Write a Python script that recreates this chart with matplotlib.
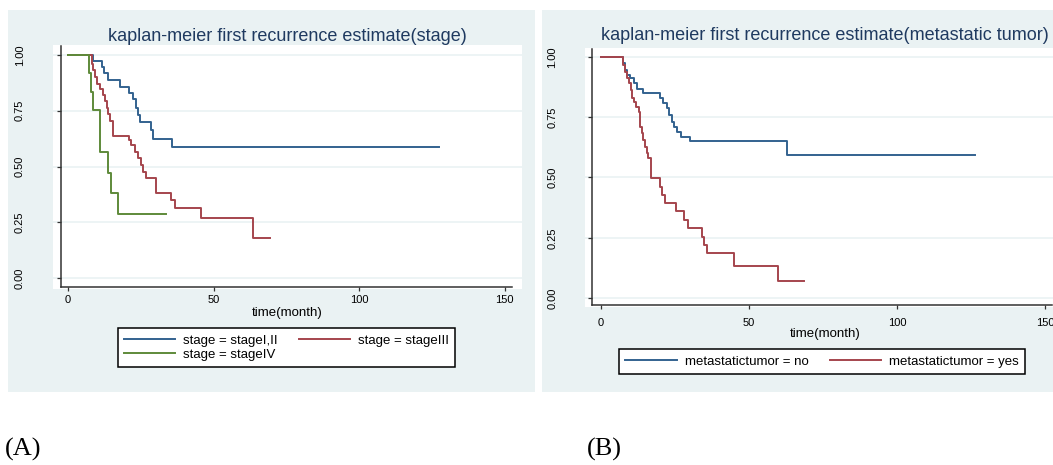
import matplotlib.pyplot as plt
from matplotlib.patches import Rectangle

plt.rcParams['font.family'] = ['Liberation Sans', 'DejaVu Sans']

W, H = 1053, 465

# (A) kaplan-meier by stage
stage_labels = ['stage = stageI,II', 'stage = stageIII', 'stage = stageIV']
stage12_t = [0, 8.5, 11.6, 12.2, 13.9, 17.9, 21.1, 22.3, 23.4, 24.2, 24.8, 28.4, 29.2, 35.6, 127.3]
stage12_s = [1.0, 0.973, 0.948, 0.918, 0.888, 0.858, 0.831, 0.801, 0.761, 0.731, 0.701, 0.664, 0.625, 0.586, 0.586]
stage3_t = [0, 8.1, 8.5, 9.3, 9.8, 11.0, 11.9, 12.7, 13.3, 13.8, 14.4, 15.3, 20.9, 21.6, 23.0, 24.1, 24.9,
            25.9, 26.8, 30.3, 35.5, 36.6, 45.6, 63.6, 69.3]
stage3_s = [1.0, 0.96, 0.935, 0.903, 0.868, 0.846, 0.823, 0.794, 0.764, 0.734, 0.704, 0.638, 0.619, 0.597, 0.567,
            0.537, 0.507, 0.477, 0.447, 0.382, 0.35, 0.313, 0.268, 0.178, 0.178]
stage4_t = [0, 7.3, 7.8, 8.7, 11.0, 13.9, 14.7, 17.0, 33.5]
stage4_s = [1.0, 0.92, 0.835, 0.753, 0.567, 0.472, 0.38, 0.287, 0.287]

# (B) kaplan-meier by metastatic tumor
meta_labels = ['metastatictumor = no', 'metastatictumor = yes']
meta_no_t = [0, 7.5, 8.1, 8.7, 9.8, 11.3, 12.3, 14.3, 19.9, 21.1, 22.4, 23.1, 23.9, 24.7, 25.6, 26.9, 30.1, 63.0, 126.4]
meta_no_s = [1.0, 0.974, 0.946, 0.925, 0.912, 0.891, 0.866, 0.852, 0.828, 0.808, 0.787, 0.759, 0.732, 0.711, 0.690,
             0.670, 0.651, 0.593, 0.593]
meta_yes_t = [0, 7.3, 8.1, 8.9, 9.6, 10.0, 10.6, 11.3, 12.0, 12.8, 13.2, 13.7, 14.3, 14.9, 15.4, 16.0, 16.8, 19.9,
              20.5, 21.6, 25.2, 28.0, 29.5, 34.0, 34.8, 35.7, 44.9, 59.9, 68.6]
meta_yes_s = [1.0, 0.967, 0.939, 0.912, 0.891, 0.863, 0.828, 0.815, 0.794, 0.773, 0.711, 0.684, 0.656, 0.628, 0.600,
              0.580, 0.497, 0.462, 0.427, 0.395, 0.361, 0.324, 0.289, 0.254, 0.220, 0.185, 0.135, 0.071, 0.071]

xticks = [0, 50, 100, 150]
yticks = [0, 0.25, 0.5, 0.75, 1.0]
titles = ['kaplan-meier first recurrence estimate(stage)',
          'kaplan-meier first recurrence estimate(metastatic tumor)']
xlabel = 'time(month)'

bg = '#EAF2F3'
blue, red, green = '#33628F', '#A5454D', '#5E8A3A'
title_col = '#1F3A60'

fig = plt.figure(figsize=(W / 100, H / 100), dpi=100)


def px_axes(x0, y0, x1, y1):
    return fig.add_axes([x0 / W, 1 - y1 / H, (x1 - x0) / W, (y1 - y0) / H])


# grey-blue graph regions
for x0, y0, x1, y1 in [(8, 10, 535, 392), (542, 10, 1053, 392)]:
    fig.patches.append(Rectangle((x0 / W, 1 - y1 / H), (x1 - x0) / W, (y1 - y0) / H,
                                 transform=fig.transFigure, facecolor=bg, edgecolor='none', zorder=-5))


def style(ax, xl, yl, xspine, yspine, ylpad, xlpad, labpad):
    ax.set_xlim(*xl)
    ax.set_ylim(*yl)
    ax.set_facecolor('white')
    for s in ['top', 'right']:
        ax.spines[s].set_visible(False)
    ax.spines['left'].set_position(('data', xspine))
    ax.spines['bottom'].set_position(('data', yspine))
    ax.spines['left'].set_bounds(yspine, yl[1] - 0.005)
    ax.spines['bottom'].set_bounds(xspine, 152.5)
    for s in ['left', 'bottom']:
        ax.spines[s].set_linewidth(1.1)
        ax.spines[s].set_color('#333333')
    ax.set_xticks(xticks)
    ax.set_yticks(yticks)
    ax.set_yticklabels(['%.2f' % v for v in yticks], rotation=90, va='center')
    ax.tick_params(axis='both', length=3, width=0.9, color='#333333', labelsize=8)
    ax.tick_params(axis='y', pad=ylpad)
    ax.tick_params(axis='x', pad=xlpad)
    ax.grid(axis='y', color=bg, linewidth=1.2)
    ax.set_axisbelow(True)
    ax.set_xlabel(xlabel, fontsize=9.5, labelpad=labpad)


leg_kw = dict(fontsize=9.5, frameon=True, fancybox=False, edgecolor='black', framealpha=1,
              handlelength=3.9, columnspacing=1.6, handletextpad=0.6, borderpad=0.45,
              loc='center', bbox_transform=fig.transFigure)

# panel A
axA = px_axes(53, 45, 522, 289)
style(axA, (-5.15, 155.9), (-0.049, 1.045), -2.4, -0.04, 23, 3, 1)
lA1, = axA.step(stage12_t, stage12_s, where='post', color=blue, lw=1.4)
lA2, = axA.step(stage3_t, stage3_s, where='post', color=red, lw=1.4)
lA3, = axA.step(stage4_t, stage4_s, where='post', color=green, lw=1.4)
axA.set_title(titles[0], fontsize=13, color=title_col, pad=3)
# row-wise order in a two column legend
legA = axA.legend([lA1, lA3, lA2], [stage_labels[0], stage_labels[2], stage_labels[1]], ncol=2,
                  bbox_to_anchor=(286.5 / W, 1 - 347.5 / H), labelspacing=0.15, **leg_kw)
legA.get_frame().set_linewidth(1.1)

# panel B
axB = px_axes(585, 48, 1065, 307)
style(axB, (-5.4, 156.8), (-0.037, 1.037), -3.0, -0.029, 22, 6, 0)
lB1, = axB.step(meta_no_t, meta_no_s, where='post', color=blue, lw=1.4)
lB2, = axB.step(meta_yes_t, meta_yes_s, where='post', color=red, lw=1.4)
axB.set_title(titles[1], fontsize=13, color=title_col, pad=6)
legB = axB.legend([lB1, lB2], meta_labels, ncol=2,
                  bbox_to_anchor=(822 / W, 1 - 361.5 / H), **leg_kw)
legB.get_frame().set_linewidth(1.1)

fig.text(5 / W, 1 - 449 / H, '(A)', family='Liberation Serif', fontsize=19, va='center', ha='left')
fig.text(587 / W, 1 - 449 / H, '(B)', family='Liberation Serif', fontsize=19, va='center', ha='left')

fig.savefig('out.png', dpi=100)
